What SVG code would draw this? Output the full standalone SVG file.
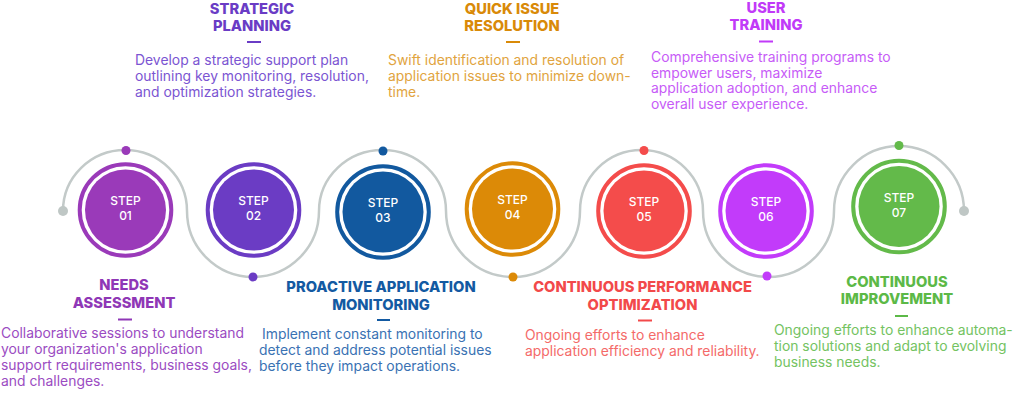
<svg xmlns="http://www.w3.org/2000/svg" width="1024" height="408" viewBox="0 0 1024 408">
<style>
.t{font-family:Inter,"Open Sans","Liberation Sans",sans-serif;font-weight:800;font-size:14.7px;text-anchor:middle}
.d{font-family:Inter,"Open Sans","Liberation Sans",sans-serif;font-weight:400;font-size:13.9px}
.s{font-family:Inter,"Open Sans","Liberation Sans",sans-serif;font-weight:500;font-size:12px;fill:#fff;text-anchor:middle}
.ring{fill:none;stroke-width:4}
.dash{stroke-width:2}
</style>
<rect width="1024" height="408" fill="#fff"/>
<g id="connectors">
<path d="M63,211 A62,61 0 0 1 187,211 A66,66 0 0 0 319,211 A63.5,61 0 0 1 446,211 A67,66 0 0 0 580,211 A61.5,61 0 0 1 703,211 A65.5,66 0 0 0 834,211 A65,65 0 0 1 964,211" fill="none" stroke="#c3cac9" stroke-width="2.5"/>
<circle cx="63" cy="211" r="5" fill="#bfc7c5"/>
<circle cx="964" cy="211" r="5" fill="#bfc7c5"/>
</g>
<g id="step1">
<circle cx="125.5" cy="210" r="45.8" class="ring" stroke="#9a3ab9"/>
<circle cx="125.5" cy="210" r="40.5" fill="#9a3ab9"/>
<circle cx="126" cy="150.5" r="4.5" fill="#9a3ab9"/>
<text class="s" x="125.5" y="205">STEP</text><text class="s" x="125.5" y="220">01</text>
<text class="t" x="124" y="290" fill="#8f37b6">NEEDS</text>
<text class="t" x="124" y="308" fill="#8f37b6">ASSESSMENT</text>
<line x1="118" y1="319.5" x2="132" y2="319.5" class="dash" stroke="#8f37b6"/>
<text class="d" fill="#9b4cc2"><tspan x="1" y="338">Collaborative sessions to understand</tspan><tspan x="1" y="354">your organization's application</tspan><tspan x="1" y="370">support requirements, business goals,</tspan><tspan x="1" y="386">and challenges.</tspan></text>
</g>
<g id="step2">
<circle cx="253.5" cy="210" r="45.8" class="ring" stroke="#6b3cc4"/>
<circle cx="253.5" cy="210" r="40.5" fill="#6b3cc4"/>
<circle cx="253" cy="277" r="4.5" fill="#6b3cc4"/>
<text class="s" x="253.5" y="205">STEP</text><text class="s" x="253.5" y="220">02</text>
<text class="t" x="252" y="13.5" fill="#6a3cc5">STRATEGIC</text>
<text class="t" x="252" y="31" fill="#6a3cc5">PLANNING</text>
<line x1="247" y1="42" x2="261" y2="42" class="dash" stroke="#6a3cc5"/>
<text class="d" fill="#7b55d2"><tspan x="135" y="65">Develop a strategic support plan</tspan><tspan x="135" y="81">outlining key monitoring, resolution,</tspan><tspan x="135" y="97">and optimization strategies.</tspan></text>
</g>
<g id="step3">
<circle cx="383" cy="212" r="45.8" class="ring" stroke="#12599f"/>
<circle cx="383" cy="212" r="40.5" fill="#12599f"/>
<circle cx="383" cy="151" r="4.5" fill="#12599f"/>
<text class="s" x="383" y="207">STEP</text><text class="s" x="383" y="222">03</text>
<text class="t" x="381" y="291.5" fill="#135aa2">PROACTIVE APPLICATION</text>
<text class="t" x="381" y="309.5" fill="#135aa2">MONITORING</text>
<line x1="377" y1="320" x2="390" y2="320" class="dash" stroke="#135aa2"/>
<text class="d" fill="#3a72b3"><tspan x="262" y="338.5">Implement constant monitoring to</tspan><tspan x="259" y="354.5">detect and address potential issues</tspan><tspan x="259" y="370.5">before they impact operations.</tspan></text>
</g>
<g id="step4">
<circle cx="512.5" cy="209" r="45.8" class="ring" stroke="#dc8a07"/>
<circle cx="512.5" cy="209" r="40.5" fill="#dc8a07"/>
<circle cx="513" cy="277" r="4.5" fill="#dc8a07"/>
<text class="s" x="512.5" y="204">STEP</text><text class="s" x="512.5" y="219">04</text>
<text class="t" x="512" y="13.5" fill="#d98a08">QUICK ISSUE</text>
<text class="t" x="512" y="31" fill="#d98a08">RESOLUTION</text>
<line x1="506" y1="42" x2="520" y2="42" class="dash" stroke="#d98a08"/>
<text class="d" fill="#e1a440"><tspan x="388" y="65">Swift identification and resolution of</tspan><tspan x="388" y="81">application issues to minimize down-</tspan><tspan x="388" y="97">time.</tspan></text>
</g>
<g id="step5">
<circle cx="644" cy="211" r="45.8" class="ring" stroke="#f44c4b"/>
<circle cx="644" cy="211" r="40.5" fill="#f44c4b"/>
<circle cx="644" cy="150.5" r="4.5" fill="#f44c4b"/>
<text class="s" x="644" y="206">STEP</text><text class="s" x="644" y="221">05</text>
<text class="t" x="642.5" y="291.5" fill="#f2494a">CONTINUOUS PERFORMANCE</text>
<text class="t" x="642.5" y="309.5" fill="#f2494a">OPTIMIZATION</text>
<line x1="638" y1="320.5" x2="652" y2="320.5" class="dash" stroke="#f2494a"/>
<text class="d" fill="#f46a69"><tspan x="525" y="339.5">Ongoing efforts to enhance</tspan><tspan x="525" y="355.5">application efficiency and reliability.</tspan></text>
</g>
<g id="step6">
<circle cx="766" cy="211" r="45.8" class="ring" stroke="#c23bfa"/>
<circle cx="766" cy="211" r="40.5" fill="#c23bfa"/>
<circle cx="767" cy="276" r="4.5" fill="#c23bfa"/>
<text class="s" x="766" y="206">STEP</text><text class="s" x="766" y="221">06</text>
<text class="t" x="766" y="13" fill="#c13af8">USER</text>
<text class="t" x="766" y="30" fill="#c13af8">TRAINING</text>
<line x1="759" y1="41.5" x2="773" y2="41.5" class="dash" stroke="#c13af8"/>
<text class="d" fill="#c75cf7"><tspan x="651" y="62">Comprehensive training programs to</tspan><tspan x="651" y="77.5">empower users, maximize</tspan><tspan x="651" y="93">application adoption, and enhance</tspan><tspan x="651" y="108.5">overall user experience.</tspan></text>
</g>
<g id="step7">
<circle cx="899" cy="206.5" r="45.8" class="ring" stroke="#63ba4a"/>
<circle cx="899" cy="206.5" r="40.5" fill="#63ba4a"/>
<circle cx="899" cy="145.5" r="4.5" fill="#63ba4a"/>
<text class="s" x="899" y="201.5">STEP</text><text class="s" x="899" y="216.5">07</text>
<text class="t" x="897" y="286.5" fill="#5cb947">CONTINUOUS</text>
<text class="t" x="897" y="304" fill="#5cb947">IMPROVEMENT</text>
<line x1="895" y1="316" x2="908" y2="316" class="dash" stroke="#5cb947"/>
<text class="d" fill="#74c362"><tspan x="774" y="335">Ongoing efforts to enhance automa-</tspan><tspan x="774" y="351">tion solutions and adapt to evolving</tspan><tspan x="774" y="367">business needs.</tspan></text>
</g>
</svg>
